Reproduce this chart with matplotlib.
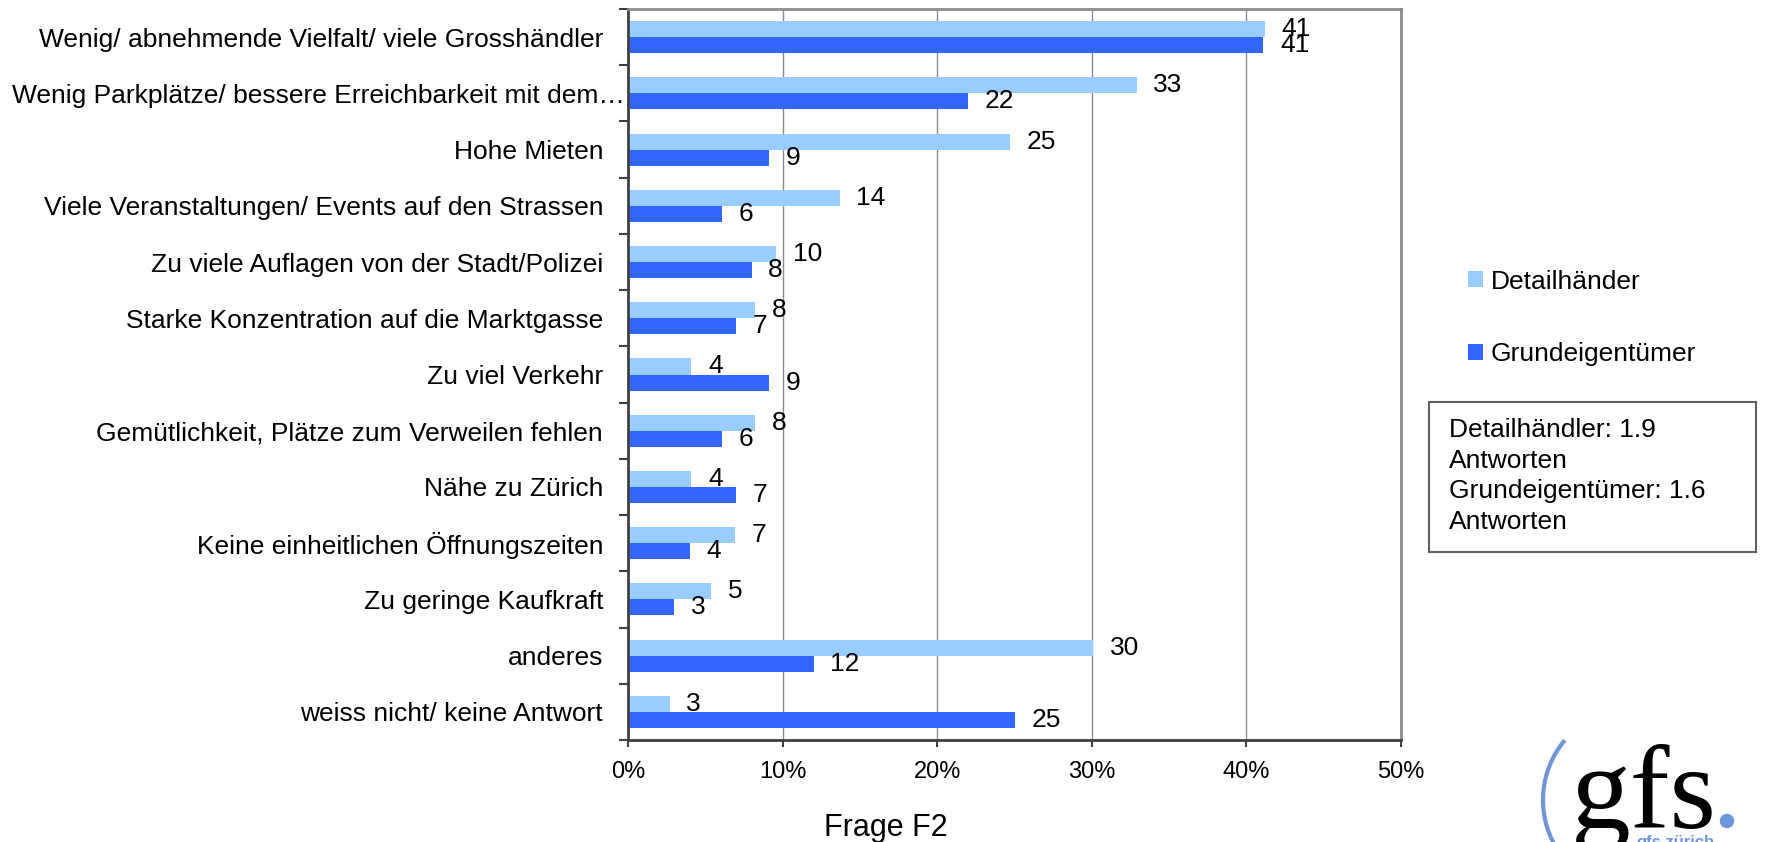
import matplotlib.pyplot as plt
import numpy as np
from matplotlib.patches import Arc, Rectangle, Circle
from matplotlib.transforms import ScaledTranslation

# data (percent), top to bottom
categories = [
    "Wenig/ abnehmende Vielfalt/ viele Grosshändler",
    "Wenig Parkplätze/ bessere Erreichbarkeit mit dem…",
    "Hohe Mieten",
    "Viele Veranstaltungen/ Events auf den Strassen",
    "Zu viele Auflagen von der Stadt/Polizei",
    "Starke Konzentration auf die Marktgasse",
    "Zu viel Verkehr",
    "Gemütlichkeit, Plätze zum Verweilen fehlen",
    "Nähe zu Zürich",
    "Keine einheitlichen Öffnungszeiten",
    "Zu geringe Kaufkraft",
    "anderes",
    "weiss nicht/ keine Antwort",
]
detail = [41.2, 32.9, 24.7, 13.7, 9.6, 8.2, 4.1, 8.2, 4.1, 6.9, 5.4, 30.1, 2.7]
grund = [41.1, 22.0, 9.1, 6.1, 8.0, 7.0, 9.1, 6.1, 7.0, 4.0, 3.0, 12.0, 25.0]
series_names = ["Detailhänder", "Grundeigentümer"]
xticks = [0, 10, 20, 30, 40, 50]
note = "Detailhändler: 1.9\nAntworten\nGrundeigentümer: 1.6\nAntworten"

W, H = 1767, 842
plt.rcParams['font.family'] = ['Liberation Sans', 'DejaVu Sans']
fig = plt.figure(figsize=(W / 100, H / 100), dpi=100)

ax = fig.add_axes([628 / W, 1 - 740 / H, 773 / W, 731 / H])
y = np.arange(len(categories))
h = 0.285
light = ax.barh(y - h / 2, detail, height=h, color="#99ccff", zorder=2)
dark = ax.barh(y + h / 2, grund, height=h, color="#3366ff", zorder=2)

ax.bar_label(light, labels=[f"{v:.0f}" for v in detail], padding=12, fontsize=19)
ax.bar_label(dark, labels=[f"{v:.0f}" for v in grund], padding=12, fontsize=19)

ax.set_ylim(len(categories) - 0.5, -0.5)
ax.set_yticks(y)
ax.set_yticklabels(categories, fontsize=19)
ax.set_yticks(np.arange(-0.5, len(categories)), minor=True)
ax.tick_params(axis="y", which="major", length=0, pad=18)
ax.tick_params(axis="y", which="minor", length=6.5, width=1.5, color="#404040")

# the truncated label runs into the axis in the original
lbl = ax.get_yticklabels()[1]
lbl.set_transform(lbl.get_transform() + ScaledTranslation(0.22, 0, fig.dpi_scale_trans))

ax.set_xlim(0, 50)
ax.set_xticks(xticks)
ax.set_xticklabels([f"{t}%" for t in xticks], fontsize=17)
ax.tick_params(axis="x", length=5, width=1.5, color="#404040", pad=10)
ax.grid(axis="x", color="#8c8c8c", linewidth=1, zorder=0)
ax.set_axisbelow(True)

for s in ["left", "bottom"]:
    ax.spines[s].set_color("#404040")
    ax.spines[s].set_linewidth(2)
for s in ["top", "right"]:
    ax.spines[s].set_color("#8c8c8c")
    ax.spines[s].set_linewidth(2)

fig.legend([light, dark], series_names, loc="center left",
           bbox_to_anchor=(1468 / W, 1 - 318 / H), frameon=False, fontsize=19,
           handlelength=0.55, handleheight=0.55, handletextpad=0.3,
           labelspacing=1.85, borderpad=0, borderaxespad=0)

fig.text(886 / W, 1 - 828 / H, "Frage F2", fontsize=22, ha="center", va="center")

# overlay in pixel coords for note box and logo
ov = fig.add_axes([0, 0, 1, 1], zorder=-1)
ov.set_xlim(0, W)
ov.set_ylim(H, 0)
ov.axis("off")
ov.add_patch(Rectangle((1429, 402), 327, 150, fill=False, edgecolor="#606060", linewidth=1.5))
ov.text(1449, 418, note, fontsize=19, va="top", ha="left", linespacing=1.35)

ov.add_patch(Arc((1636, 800), 186, 186, theta1=150, theta2=220, color="#6d95d8", linewidth=3))
ov.text(1571, 828, "gfs", family="Liberation Serif", fontsize=86, va="baseline", ha="left")
ov.add_patch(Circle((1727, 821), 6.5, color="#6d95d8"))
ov.text(1636, 835, "gfs.zürich", fontsize=12, color="#6d95d8", fontweight="bold", va="top", ha="left")

fig.savefig("out.png", dpi=100)
